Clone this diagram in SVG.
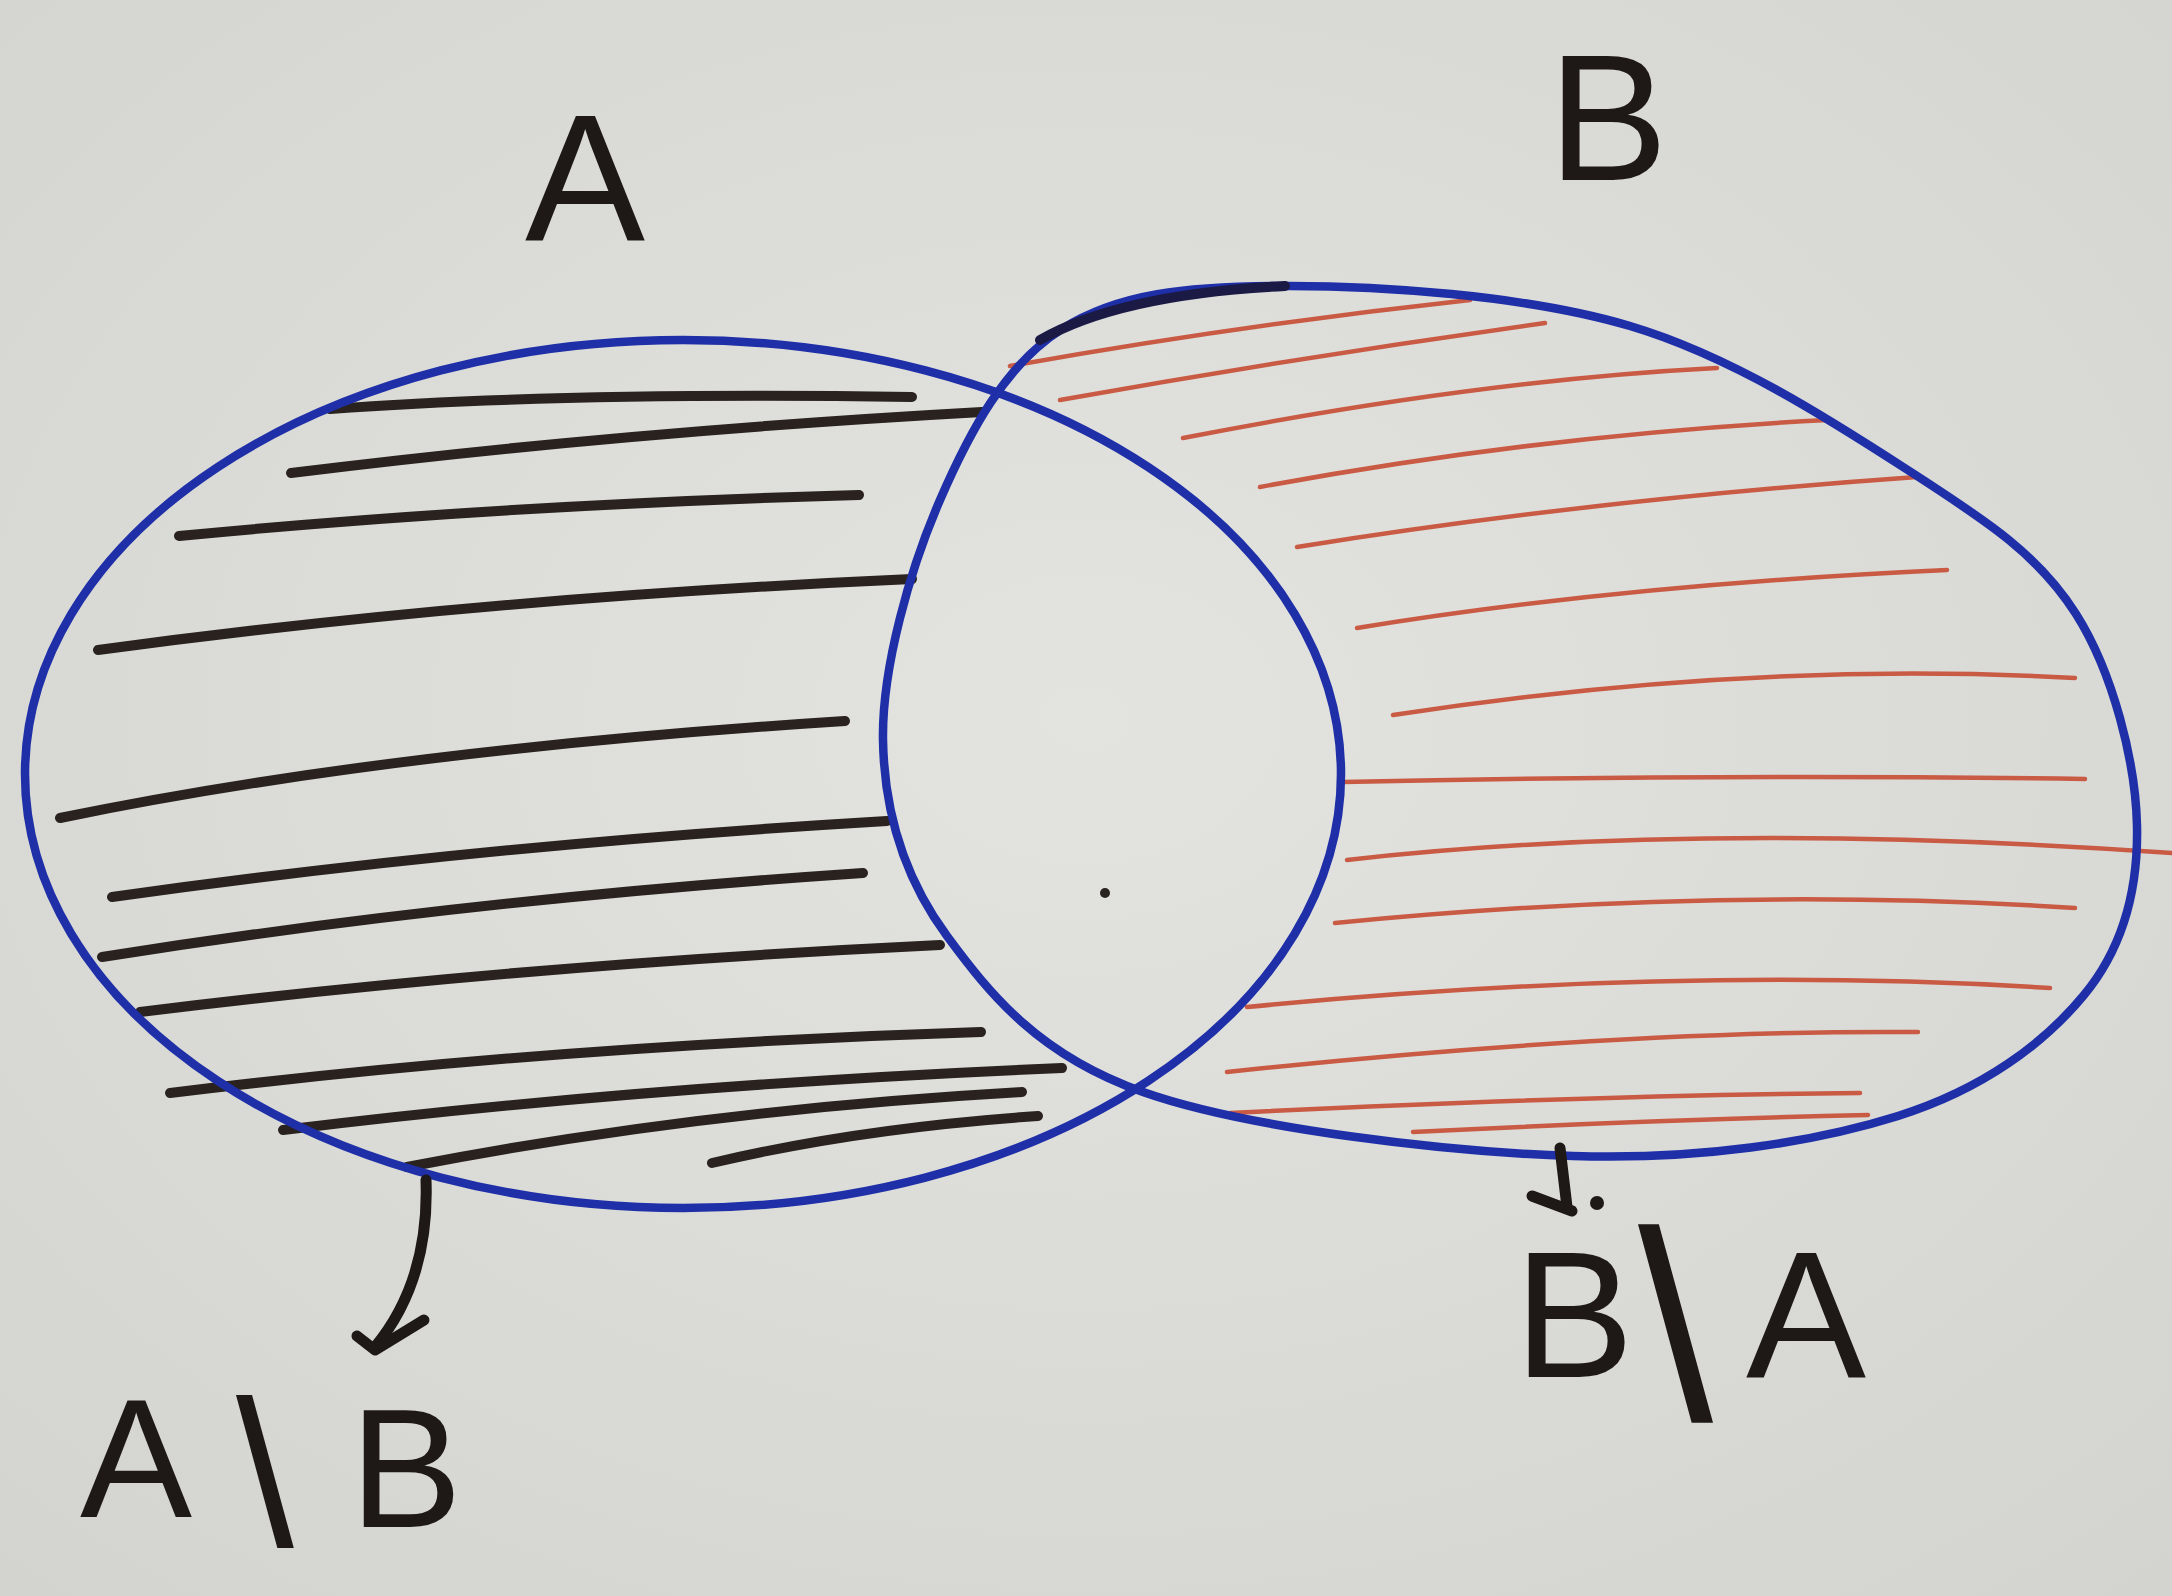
<svg xmlns="http://www.w3.org/2000/svg" width="2172" height="1596" viewBox="0 0 2172 1596">
  <defs>
    <radialGradient id="paper" cx="50%" cy="45%" r="75%">
      <stop offset="0" stop-color="#e3e3e0"/>
      <stop offset="1" stop-color="#d3d3cf"/>
    </radialGradient>
  </defs>
  <style>
    .set { fill: none; stroke: #1f2fa8; stroke-width: 8.5; }
    .hb { fill: none; stroke: #29221e; stroke-width: 10; stroke-linecap: round; }
    .hr { fill: none; stroke: #c95a44; stroke-width: 4.5; stroke-linecap: round; }
    .ink { fill: none; stroke: #1e1816; stroke-width: 11; stroke-linecap: round; stroke-linejoin: round; }
    .lbl { font-family: "Liberation Sans", Arial, sans-serif; fill: #1e1816; }
  </style>

  <rect width="2172" height="1596" fill="url(#paper)"/>

  <!-- hatching of A \ B (black) -->
  <g id="hatch-A-minus-B">
    <path class="hb" d="M330,409 Q560,392 912,397"/>
    <path class="hb" d="M291,473 Q620,432 982,412"/>
    <path class="hb" d="M179,536 Q500,505 859,495"/>
    <path class="hb" d="M98,650 Q480,598 912,579"/>
    <path class="hb" d="M60,818 Q390,750 845,721"/>
    <path class="hb" d="M112,897 Q480,845 887,821"/>
    <path class="hb" d="M102,957 Q460,900 863,873"/>
    <path class="hb" d="M140,1012 Q520,965 940,945"/>
    <path class="hb" d="M170,1093 Q560,1045 981,1032"/>
    <path class="hb" d="M283,1130 Q650,1085 1062,1068"/>
    <path class="hb" d="M407,1167 Q700,1110 1022,1092"/>
    <path class="hb" d="M712,1163 Q860,1128 1038,1116"/>
  </g>

  <!-- hatching of B \ A (red) -->
  <g id="hatch-B-minus-A">
    <path class="hr" d="M1010,366 Q1240,325 1470,300"/>
    <path class="hr" d="M1060,400 Q1300,357 1545,323"/>
    <path class="hr" d="M1183,438 Q1480,380 1717,368"/>
    <path class="hr" d="M1260,487 Q1540,435 1827,420"/>
    <path class="hr" d="M1297,547 Q1590,500 1917,477"/>
    <path class="hr" d="M1357,628 Q1620,585 1947,570"/>
    <path class="hr" d="M1393,715 Q1750,660 2075,678"/>
    <path class="hr" d="M1343,782 Q1714,774 2085,779"/>
    <path class="hr" d="M1347,860 Q1700,820 2172,853"/>
    <path class="hr" d="M1335,923 Q1720,885 2075,908"/>
    <path class="hr" d="M1247,1007 Q1680,965 2050,988"/>
    <path class="hr" d="M1227,1072 Q1620,1030 1918,1032"/>
    <path class="hr" d="M1230,1113 Q1600,1095 1860,1093"/>
    <path class="hr" d="M1413,1132 Q1650,1120 1868,1115"/>
  </g>

  <!-- set A -->
  <g id="set-A">
    <ellipse class="set" cx="683" cy="774" rx="658" ry="434"/>
  </g>

  <!-- set B -->
  <g id="set-B">
    <path class="set" d="M1281,286 C1375.7,285.5 1524.5,294.7 1630,326 C1735.5,357.3 1839.7,426 1914,474 C1988.3,522 2038.8,555.3 2076,614 C2113.2,672.7 2135.7,762.5 2137,826 C2138.3,889.5 2123.8,946.7 2084,995 C2044.2,1043.3 1983.2,1089.2 1898,1116 C1812.8,1142.8 1698.8,1160 1573,1156 C1447.2,1152 1247.3,1128.7 1143,1092 C1038.7,1055.3 990.3,994.7 947,936 C903.7,877.3 884.2,812.7 883,740 C881.8,667.3 910.2,568.5 940,500 C969.8,431.5 1005.2,364.7 1062,329 C1118.8,293.3 1186.3,286.5 1281,286 Z"/>
    <path d="M1040,340 Q1120,294 1285,286" fill="none" stroke="#1b1a45" stroke-width="10" stroke-linecap="round"/>
  </g>

  <!-- pen dot -->
  <circle cx="1105" cy="893" r="5" fill="#2a2420"/>

  <!-- labels -->
  <g id="label-A">
    <text class="lbl" x="525" y="240" font-size="180">A</text>
  </g>
  <g id="label-B">
    <text class="lbl" x="1548" y="180" font-size="180">B</text>
  </g>
  <g id="label-A-minus-B">
    <text class="lbl"><tspan x="80" y="1517" font-size="168">A</tspan><tspan x="236" y="1546" font-size="208">\</tspan><tspan x="350" y="1527" font-size="168">B</tspan></text>
  </g>
  <g id="label-B-minus-A">
    <text class="lbl"><tspan x="1514" y="1377" font-size="180">B</tspan><tspan x="1638" y="1420" font-size="270">\</tspan><tspan x="1746" y="1377" font-size="180">A</tspan></text>
  </g>

  <!-- connectors -->
  <g id="connectors">
    <path class="ink" d="M426,1180 C428,1235 418,1295 375,1347"/>
    <path class="ink" d="M357,1336 L375,1350 L424,1320"/>
    <path class="ink" d="M1560,1148 L1567,1207"/>
    <path class="ink" d="M1532,1196 L1572,1211"/>
    <circle cx="1597" cy="1203" r="7" fill="#1e1816"/>
  </g>
</svg>
